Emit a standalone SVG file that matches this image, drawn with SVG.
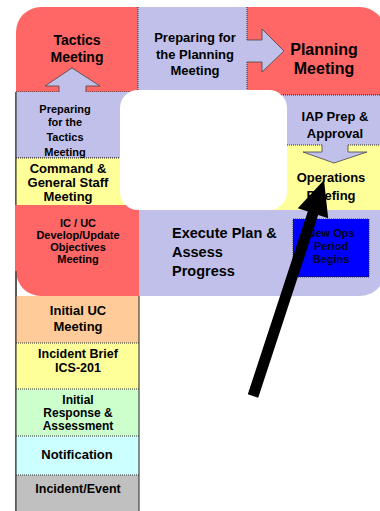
<svg xmlns="http://www.w3.org/2000/svg" width="380" height="511" viewBox="0 0 380 511">
<style>
.t{font-family:"Liberation Sans",Arial,sans-serif;font-weight:bold;fill:#000;text-anchor:middle}
.red{fill:#FF6666}
.lav{fill:#C0C0EA}
.yel{fill:#FFFF99}
.sep{stroke:#333;stroke-width:1;stroke-dasharray:1 1;fill:none}
.edge{stroke:#222;stroke-width:1;fill:none}
.blk{fill:#C0C0EA;stroke:#444;stroke-width:0.8}
</style>
<rect width="380" height="511" fill="#fff"/>
<line class="edge" x1="16" y1="92" x2="16" y2="511"/>
<g id="prep-planning">
<rect class="lav" x="138" y="7" width="109" height="88"/>
<text class="t" font-size="13" x="195" y="42">Preparing for</text>
<text class="t" font-size="13" x="195" y="59">the Planning</text>
<text class="t" font-size="13" x="195" y="75">Meeting</text>
</g>
<g id="tactics">
<path class="red" d="M16,32 A25,25 0 0 1 41,7 L138,7 L138,92 L16,92 Z"/>
<line class="sep" x1="138" y1="7" x2="138" y2="92"/>
<line class="sep" x1="16" y1="92" x2="59" y2="92"/>
<line class="sep" x1="86" y1="92" x2="138" y2="92"/>
<text class="t" font-size="14" x="77" y="45">Tactics</text>
<text class="t" font-size="14" x="77" y="62">Meeting</text>
</g>
<g id="planning">
<path class="red" d="M247,7 L360,7 A25,25 0 0 1 385,32 L385,95 L247,95 Z"/>
<line class="sep" x1="247" y1="7" x2="247" y2="40"/>
<line class="sep" x1="247" y1="62" x2="247" y2="95"/>
<line class="sep" x1="247" y1="95" x2="385" y2="95"/>
<text class="t" font-size="16" x="324" y="55">Planning</text>
<text class="t" font-size="16" x="324" y="74">Meeting</text>
</g>
<g id="prep-tactics">
<rect class="lav" x="16" y="92" width="123" height="66"/>
<line class="edge" x1="16" y1="92" x2="16" y2="158"/>
<line class="sep" x1="16" y1="158" x2="139" y2="158"/>
<text class="t" font-size="11" x="65" y="113">Preparing</text>
<text class="t" font-size="11" x="65" y="126">for the</text>
<text class="t" font-size="11" x="65" y="141">Tactics</text>
<text class="t" font-size="11" x="65" y="156">Meeting</text>
</g>
<g id="command">
<rect class="yel" x="16" y="158" width="123" height="47"/>
<line class="edge" x1="16" y1="158" x2="16" y2="205"/>
<line class="sep" x1="16" y1="158" x2="139" y2="158"/>
<text class="t" font-size="13" x="68" y="173">Command &amp;</text>
<text class="t" font-size="13" x="68" y="187">General Staff</text>
<text class="t" font-size="13" x="68" y="201">Meeting</text>
</g>
<g id="iap">
<rect class="lav" x="247" y="95" width="138" height="50"/>
<line class="sep" x1="247" y1="95" x2="385" y2="95"/>
<text class="t" font-size="13" x="335" y="121">IAP Prep &amp;</text>
<text class="t" font-size="13" x="335" y="138">Approval</text>
</g>
<g id="ops-briefing">
<rect class="yel" x="247" y="145" width="138" height="65"/>
<line class="sep" x1="247" y1="145" x2="322" y2="145"/>
<line class="sep" x1="348" y1="145" x2="385" y2="145"/>
</g>
<g id="execute">
<path class="lav" d="M139,210 L385,210 L385,271 A25,25 0 0 1 360,296 L139,296 Z"/>
<text class="t" font-size="14.5" x="172" y="238" style="text-anchor:start">Execute Plan &amp;</text>
<text class="t" font-size="14.5" x="172" y="257" style="text-anchor:start">Assess</text>
<text class="t" font-size="14.5" x="172" y="276" style="text-anchor:start">Progress</text>
</g>
<g id="ic-uc">
<path class="red" d="M16,205 L139,205 L139,296 L41,296 A25,25 0 0 1 16,271 Z"/>
<text class="t" font-size="11" x="78" y="227">IC / UC</text>
<text class="t" font-size="11" x="78" y="239">Develop/Update</text>
<text class="t" font-size="11" x="78" y="251">Objectives</text>
<text class="t" font-size="11" x="78" y="263">Meeting</text>
</g>
<rect id="center" x="120" y="90" width="167" height="120" rx="18" fill="#fff"/>
<g id="new-ops">
<rect x="293" y="219" width="76" height="58" fill="#0000FF" stroke="#222" stroke-width="0.8" stroke-dasharray="1 1"/>
<text class="t" font-size="11" x="331" y="237" style="fill:#000022">New Ops</text>
<text class="t" font-size="11" x="331" y="250" style="fill:#000022">Period</text>
<text class="t" font-size="11" x="331" y="263" style="fill:#000022">Begins</text>
</g>
<g id="initial-uc">
<rect x="16" y="296" width="123" height="47" fill="#FFCC99"/>
<text class="t" font-size="13" x="78" y="315">Initial UC</text>
<text class="t" font-size="13" x="78" y="331">Meeting</text>
</g>
<g id="incident-brief">
<rect x="16" y="343" width="123" height="46" fill="#FFFF99"/>
<text class="t" font-size="12.5" x="78" y="358">Incident Brief</text>
<text class="t" font-size="12.5" x="78" y="372">ICS-201</text>
</g>
<g id="initial-response">
<rect x="16" y="389" width="123" height="47" fill="#CCFFCC"/>
<text class="t" font-size="12" x="78" y="404">Initial</text>
<text class="t" font-size="12" x="78" y="417">Response &amp;</text>
<text class="t" font-size="12" x="78" y="430">Assessment</text>
</g>
<g id="notification">
<rect x="16" y="436" width="123" height="39" fill="#CCFFFF"/>
<text class="t" font-size="13" x="77" y="459">Notification</text>
</g>
<g id="incident-event">
<rect x="16" y="475" width="123" height="36" fill="#C0C0C0"/>
<text class="t" font-size="12.5" x="78" y="493">Incident/Event</text>
</g>
<g id="column-lines">
<line class="edge" x1="16" y1="271" x2="16" y2="511"/>
<line class="edge" x1="139" y1="296" x2="139" y2="511"/>
<line class="sep" x1="16" y1="343" x2="139" y2="343"/>
<line class="sep" x1="16" y1="389" x2="139" y2="389"/>
<line class="sep" x1="16" y1="436" x2="139" y2="436"/>
<line class="sep" x1="16" y1="475" x2="139" y2="475"/>
</g>
<g id="connectors">
<path class="lav" d="M59,93 L59,86 L45,86 L72,68 L100,86 L86,86 L86,93 Z"/>
<path class="blk" style="fill:none" d="M59,92 L59,86 L45,86 L72,68 L100,86 L86,86 L86,92"/>
<path class="lav" d="M246,40 L262,40 L262,29 L284,51 L262,72 L262,62 L246,62 Z"/>
<path class="blk" style="fill:none" d="M247,40 L262,40 L262,29 L284,51 L262,72 L262,62 L247,62"/>
<path class="lav" d="M322,144 L322,152 L303,152 L334,163 L367,152 L348,152 L348,144 Z"/>
<path class="blk" style="fill:none" d="M322,145 L322,152 L303,152 L334,163 L367,152 L348,152 L348,145"/>
<text class="t" font-size="13" x="331" y="182">Operations</text>
<text class="t" font-size="13" x="331" y="200">Briefing</text>
<polygon fill="#000" points="247.8,394.3 258.2,397.7 318.2,215 328.2,218.3 324,180 297.8,208.3 307.8,211.6"/>
</g>
</svg>
